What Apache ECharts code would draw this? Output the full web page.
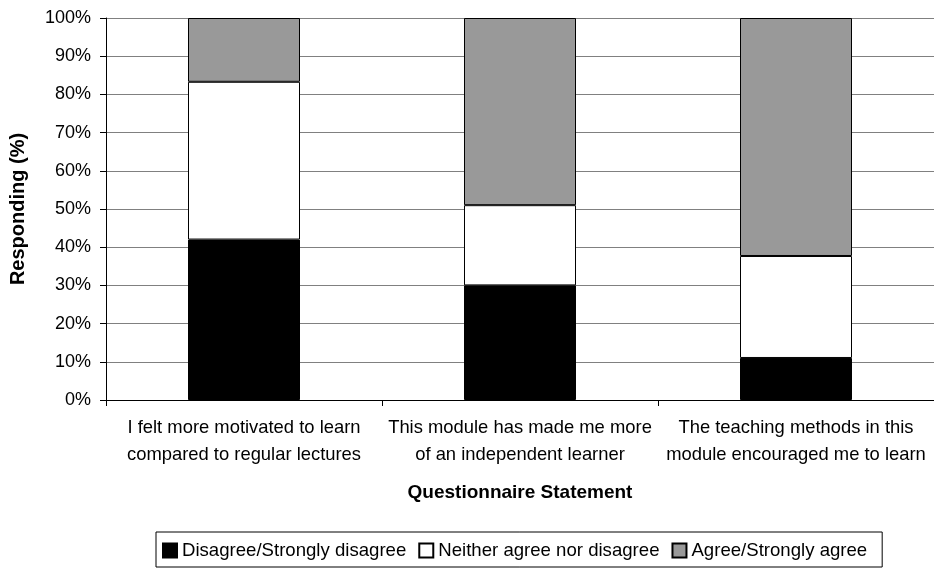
<!DOCTYPE html>
<html>
<head>
<meta charset="utf-8">
<script src="https://cdn.jsdelivr.net/npm/echarts@6/dist/echarts.min.js"></script>
<style>
  html, body { margin: 0; padding: 0; background: #fff; }
  #chartData { width: 934px; height: 568px; }
</style>
</head>
<body>
<div id="chartData"></div>
<script>
// categories and values (percent of respondents)
var categories = [
    'I felt more motivated to learn\ncompared to regular lectures',
    'This module has made me more\nof an independent learner',
    'The teaching methods in this\nmodule encouraged me to learn'
];
var seriesNames = ['Disagree/Strongly disagree', 'Neither agree nor disagree', 'Agree/Strongly agree'];
var disagreeData = [42, 30, 11];
var neitherData = [41.3, 21, 26.7];
var agreeData = [16.7, 49, 62.3];

var colors = ['#000000', '#ffffff', '#999999'];
var font = 'Arial, "Liberation Sans", sans-serif';

var myChart = echarts.init(document.getElementById('chartData'));

function makeSeries(name, data, color) {
    return {
        name: name,
        type: 'bar',
        stack: 'total',
        barWidth: 112,
        itemStyle: {
            color: color,
            borderColor: '#000',
            borderWidth: 1
        },
        emphasis: { disabled: true },
        data: data
    };
}

var option = {
    animation: false,
    color: colors,
    textStyle: { fontFamily: font },
    grid: {
        left: 106,
        right: 0,
        top: 18,
        bottom: 168
    },
    legend: {
        data: seriesNames,
        top: 532,
        left: 156,
        icon: 'rect',
        itemWidth: 14,
        itemHeight: 14,
        itemGap: 12,
        padding: [9, 15, 7, 6],
        borderColor: '#000',
        borderWidth: 1,
        textStyle: { fontSize: 18.6, color: '#000' }
    },
    xAxis: {
        type: 'category',
        data: categories,
        name: 'Questionnaire Statement',
        nameLocation: 'middle',
        nameGap: 83,
        nameTextStyle: { fontSize: 19, fontWeight: 'bold', color: '#000' },
        axisLine: { lineStyle: { color: '#000', width: 1 } },
        axisTick: { show: true, interval: 0, length: 6, lineStyle: { color: '#000' } },
        axisLabel: { interval: 0, hideOverlap: false, fontSize: 18.4, color: '#000', margin: 14, lineHeight: 27 }
    },
    yAxis: {
        type: 'value',
        min: 0,
        max: 100,
        interval: 10,
        name: 'Responding (%)',
        nameLocation: 'middle',
        nameGap: 78,
        nameTextStyle: { fontSize: 20, fontWeight: 'bold', color: '#000' },
        axisLine: { show: true, lineStyle: { color: '#000', width: 1 } },
        axisTick: { show: true, length: 6, lineStyle: { color: '#000' } },
        axisLabel: { fontSize: 18, color: '#000', margin: 15, formatter: '{value}%' },
        splitLine: { lineStyle: { color: '#808080', width: 1 } }
    },
    series: [
        makeSeries(seriesNames[0], disagreeData, colors[0]),
        makeSeries(seriesNames[1], neitherData, colors[1]),
        makeSeries(seriesNames[2], agreeData, colors[2])
    ]
};

myChart.setOption(option);
</script>
</body>
</html>
